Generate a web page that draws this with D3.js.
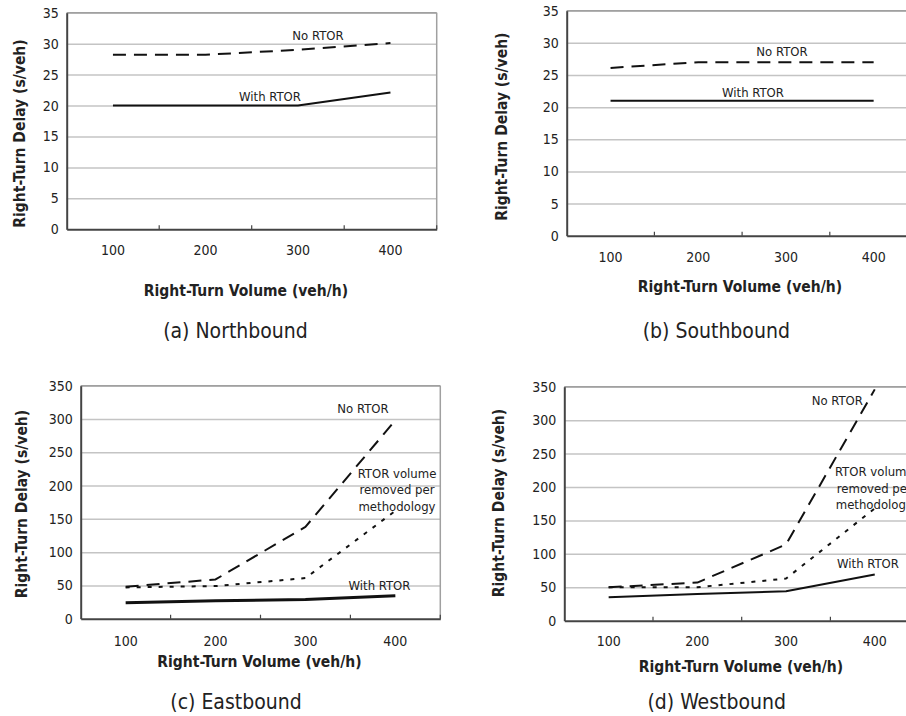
<!DOCTYPE html>
<html>
<head>
<meta charset="utf-8">
<script src="https://cdn.jsdelivr.net/npm/d3@7"></script>
<style>
  html, body { margin: 0; padding: 0; background: #fff; }
  svg { display: block; }
  text { font-family: "DejaVu Sans Condensed", "DejaVu Sans", "Open Sans", sans-serif; font-stretch: condensed; fill: #222; }
</style>
</head>
<body>
<svg id="chart" width="906" height="716"></svg>
<script>
// ---------- data ----------
const categories = ["100", "200", "300", "400"];
const yTicksSmall = [0, 5, 10, 15, 20, 25, 30, 35];
const yTicksLarge = [0, 50, 100, 150, 200, 250, 300, 350];

const nbNoRtor   = [28.2, 28.2, 29, 30.1];
const nbWithRtor = [20, 20, 20, 22.1];

const sbNoRtor   = [26.1, 27, 27, 27];
const sbWithRtor = [21, 21, 21, 21];

const ebNoRtor   = [48, 59, 138, 298];
const ebRemoved  = [47, 49, 61, 162];
const ebWithRtor = [24, 27, 29, 34.5];

const wbNoRtor   = [50, 57, 114, 346];
const wbRemoved  = [50, 50, 63, 168];
const wbWithRtor = [35, 40, 44, 69];

const yTitle = "Right-Turn Delay (s/veh)";
const xTitle = "Right-Turn Volume (veh/h)";

// ---------- layout ----------
const panels = [
  { sub: "(a) Northbound", left: 66.7, top: 12.7, w: 370, h: 216.6, yMax: 35, ticks: yTicksSmall,
    series: [
      { v: nbNoRtor, dash: "13,8", sw: 2 },
      { v: nbWithRtor, dash: null, sw: 2 }
    ],
    labels: [
      { t: ["No RTOR"], x: 251.3, y: 27 },
      { t: ["With RTOR"], x: 203.3, y: 88 }
    ],
    tickLabelDy: 26, xTitle: { x: 246, y: 295.5 }, subT: { x: 235.5, y: 337.5 }, yT: { x: 19, y: 133.5 } },
  { sub: "(b) Southbound", left: 566.7, top: 10.7, w: 350.8, h: 225, yMax: 35, ticks: yTicksSmall,
    series: [
      { v: sbNoRtor, dash: "13,8", sw: 2 },
      { v: sbWithRtor, dash: null, sw: 2 }
    ],
    labels: [
      { t: ["No RTOR"], x: 215.3, y: 45.5 },
      { t: ["With RTOR"], x: 186.3, y: 86 }
    ],
    tickLabelDy: 26, xTitle: { x: 740, y: 292 }, subT: { x: 716.3, y: 337.5 }, yT: { x: 501.7, y: 126.7 } },
  { sub: "(c) Eastbound", left: 80.7, top: 385.7, w: 359.6, h: 233, yMax: 350, ticks: yTicksLarge,
    series: [
      { v: ebNoRtor, dash: "13,8", sw: 2 },
      { v: ebRemoved, dash: "4,7", sw: 2 },
      { v: ebWithRtor, dash: null, sw: 3 }
    ],
    labels: [
      { t: ["No RTOR"], x: 282.3, y: 27 },
      { t: ["RTOR volume", "removed per", "methodology"], x: 316.3, y: 92 },
      { t: ["With RTOR"], x: 298.8, y: 204.5 }
    ],
    tickLabelDy: 27.5, xTitle: { x: 259.5, y: 667 }, subT: { x: 236, y: 709 }, yT: { x: 21.7, y: 504 } },
  { sub: "(d) Westbound", left: 564.3, top: 386.7, w: 354.8, h: 234, yMax: 350, ticks: yTicksLarge,
    series: [
      { v: wbNoRtor, dash: "13,8", sw: 2 },
      { v: wbRemoved, dash: "4,7", sw: 2 },
      { v: wbWithRtor, dash: null, sw: 2 }
    ],
    labels: [
      { t: ["No RTOR"], x: 273, y: 18 },
      { t: ["RTOR volume", "removed per", "methodology"], x: 310, y: 89.5 },
      { t: ["With RTOR"], x: 303.7, y: 181 }
    ],
    tickLabelDy: 25.5, xTitle: { x: 741, y: 672 }, subT: { x: 716.7, y: 709 }, yT: { x: 498, y: 503 } }
];

const svg = d3.select("#chart");
const FF = "'DejaVu Sans Condensed','DejaVu Sans',sans-serif";

panels.forEach(p => {
  const g = svg.append("g").attr("transform", `translate(${p.left},${p.top})`);
  const x = d3.scaleBand().domain(categories).range([0, p.w]).padding(0);
  const y = d3.scaleLinear().domain([0, p.yMax]).range([p.h, 0]);

  // gridlines
  const grid = g.append("g").call(d3.axisLeft(y).tickValues(p.ticks.filter(t => t > 0)).tickSize(-p.w).tickFormat(""));
  grid.select(".domain").remove();
  grid.selectAll("line").attr("stroke", "#c4c4c4").attr("stroke-width", 1.5);

  // top & right border
  g.append("line").attr("x1", 0).attr("x2", p.w).attr("y1", 0).attr("y2", 0)
    .attr("stroke", "#a0a0a0").attr("stroke-width", 1.5);
  g.append("line").attr("x1", p.w).attr("x2", p.w).attr("y1", 0).attr("y2", p.h)
    .attr("stroke", "#a0a0a0").attr("stroke-width", 1.5);

  // y axis
  const ya = g.append("g").call(d3.axisLeft(y).tickValues(p.ticks).tickSize(0).tickPadding(8));
  ya.select(".domain").attr("stroke", "#444").attr("stroke-width", 2);
  ya.selectAll("text").attr("font-size", 14).attr("fill", "#222").style("font-family", FF);

  // x axis
  const xa = g.append("g").attr("transform", `translate(0,${p.h})`)
    .call(d3.axisBottom(x).tickSize(0).tickPadding(0));
  xa.select(".domain").attr("stroke", "#444").attr("stroke-width", 2);
  xa.selectAll("text").attr("font-size", 14).attr("fill", "#222").attr("dy", null)
    .attr("y", p.tickLabelDy).style("font-family", FF);
  // inside tick marks at category boundaries
  const bounds = categories.slice(1).map(c => x(c)).concat([x.range()[1]]);
  g.selectAll(".btick").data(bounds).enter().append("line")
    .attr("x1", d => d).attr("x2", d => d).attr("y1", p.h).attr("y2", p.h - 4)
    .attr("stroke", "#444").attr("stroke-width", 1.2);

  // series
  const line = d3.line().x((d, i) => x(categories[i]) + x.bandwidth() / 2).y(d => y(d));
  p.series.forEach(s => {
    g.append("path").datum(s.v).attr("d", line)
      .attr("fill", "none").attr("stroke", "#111").attr("stroke-width", s.sw)
      .attr("stroke-dasharray", s.dash).attr("stroke-linejoin", "round");
  });

  // series labels
  p.labels.forEach(l => {
    const t = g.append("text").attr("text-anchor", "middle").attr("font-size", 13).attr("fill", "#333");
    l.t.forEach((s, i) => t.append("tspan").attr("x", l.x).attr("y", l.y + i * 16.5).text(s));
  });

  // x title
  svg.append("text").attr("x", p.xTitle.x).attr("y", p.xTitle.y).attr("text-anchor", "middle")
    .attr("font-size", 15.5).attr("font-weight", "bold").text(xTitle);
  // y title
  svg.append("text").attr("transform", `translate(${p.yT.x + 5.5},${p.yT.y}) rotate(-90)`)
    .attr("text-anchor", "middle").attr("font-size", 15.5).attr("font-weight", "bold").text(yTitle);
  // subtitle
  svg.append("text").attr("x", p.subT.x).attr("y", p.subT.y).attr("text-anchor", "middle")
    .attr("font-size", 21).attr("fill", "#333").text(p.sub);
});
</script>
</body>
</html>
